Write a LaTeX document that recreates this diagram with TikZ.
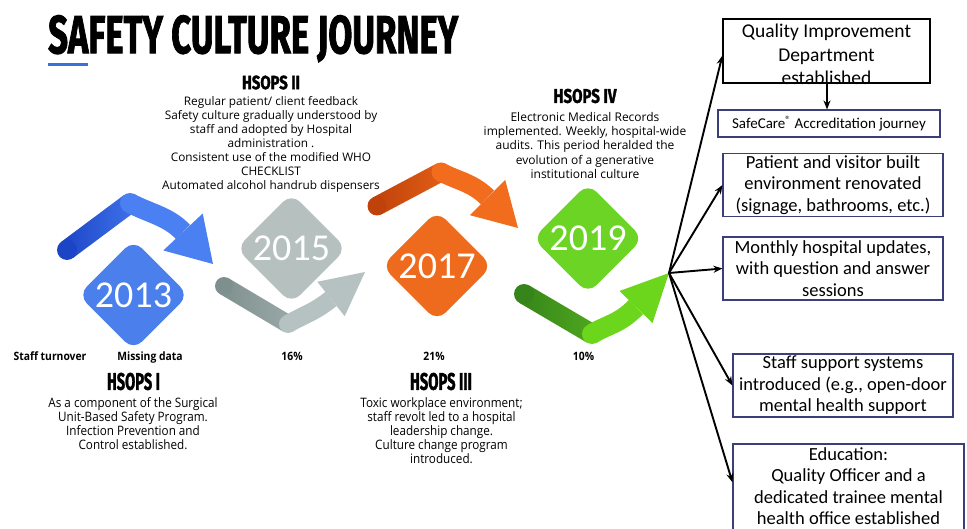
\documentclass[tikz,border=0pt]{standalone}
\usepackage{fontspec}
\usetikzlibrary{calc,arrows.meta}
\setmainfont{Open Sans}
\newfontfamily\headfont[BoldFeatures={FakeBold=2}]{Fira Sans}
\newfontfamily\condfont[FakeStretch=0.9]{Open Sans}
\newfontfamily\calfont{Carlito}

\definecolor{barblue}{HTML}{3B6FD9}
\definecolor{blueD}{HTML}{1C44C6}
\definecolor{blueM}{HTML}{3F73EA}
\definecolor{blueL}{HTML}{4A80F2}
\definecolor{blueDia}{HTML}{4B80EC}
\definecolor{grayD}{HTML}{7E908E}
\definecolor{grayM}{HTML}{9AA9A7}
\definecolor{grayL}{HTML}{B6C2C1}
\definecolor{grayDia}{HTML}{B5C0BF}
\definecolor{orangeD}{HTML}{BE420A}
\definecolor{orangeM}{HTML}{E25E16}
\definecolor{orangeL}{HTML}{F26C1E}
\definecolor{orangeDia}{HTML}{EE6B1E}
\definecolor{greenD}{HTML}{36851A}
\definecolor{greenM}{HTML}{4FA81E}
\definecolor{greenL}{HTML}{6CD61C}
\definecolor{greenDia}{HTML}{6BD424}
\definecolor{boxblue}{HTML}{3A3F7A}

% Folded ribbon arrow: #1 tail colour, #2 fold colour, #3 head colour,
% #4 half width (pt), #5 tail, #6 fold, #7 head base, #8 tip, #9 head half width (pt)
\newcommand\swoosh[9]{%
  \shade[left color=#1, right color=#2]
    ($#5!#4pt!90:#6$) -- ($#6!#4pt!-90:#5$) -- ($#6!#4pt!90:#5$) -- ($#5!#4pt!-90:#6$) -- cycle;
  \fill[#1] #5 circle (#4);
  \fill[#3] #6 circle (#4);
  \draw[#3, line width=2*#4pt] #6 .. controls ($#6!0.35!#7$) and ($#7!-0.5!#8$) .. #7;
  \fill[#3] ($#7!#9pt!90:#8$) -- #8 -- ($#7!#9pt!-90:#8$) -- cycle;
}

\tikzset{
  hd/.style={inner sep=0},
  body/.style={align=center, inner sep=0, font=\fontsize{11.8}{14}\selectfont},
  cbody/.style={align=center, inner sep=0, font=\condfont\fontsize{13}{14}\selectfont},
  stat/.style={anchor=base, inner sep=0, font=\condfont\bfseries\fontsize{11.5}{12}\selectfont},
  dia/.style={rectangle, rounded corners=12pt, minimum size=78pt, rotate=45, inner sep=0},
  yr/.style={text=white, inner sep=0, font=\calfont\fontsize{38}{38}\selectfont},
  ibox/.style={draw=boxblue, line width=1.1pt, fill=white, align=center, inner sep=0,
    font=\calfont\fontsize{18.5}{21.5}\selectfont, minimum width=220pt, minimum height=63pt},
  boxtext/.style={align=center, inner sep=0, font=\calfont\fontsize{18.5}{21.5}\selectfont},
  fan/.style={line width=1.9pt, -{Stealth[length=9pt,width=7pt]}},
}

\begin{document}
\begin{tikzpicture}[x=1pt,y=-1pt]
  \fill[white] (0,0) rectangle (967,529);
  \useasboundingbox (0,0) rectangle (967,529);

  % title and rule
  \node[anchor=north west, inner sep=0] (title) at (48,15)
    {\resizebox{410pt}{38pt}{\headfont\bfseries SAFETY CULTURE JOURNEY}};
  \node[fill=barblue, minimum width=40pt, minimum height=3pt, inner sep=0, anchor=west] (rule) at (48,65) {};

  % ribbons
  \swoosh{blueD}{blueM}{blueL}{10}{(67,250)}{(130,203)}{(183,232)}{(213,264)}{27}
  \swoosh{grayD}{grayM}{grayL}{9}{(224,286)}{(288,324)}{(331,299)}{(365,272)}{22}
  \swoosh{orangeD}{orangeM}{orangeL}{9.5}{(377,206)}{(441,172)}{(487.5,197.5)}{(518,228)}{25}
  \coordinate (hub) at (669,273);
  \swoosh{greenD}{greenM}{greenL}{10}{(524,294)}{(592,334)}{(636,307)}{(669,273)}{23}

  % year diamonds
  \node[dia, fill=blueDia] (d13) at (133.5,295) {};
  \node[yr] (y13) at (d13) {2013};
  \node[dia, fill=grayDia] (d15) at (291.5,248.5) {};
  \node[yr] (y15) at (d15) {2015};
  \node[dia, fill=orangeDia] (d17) at (437,266) {};
  \node[yr] (y17) at (d17) {2017};
  \node[dia, fill=greenDia] (d19) at (588,238.5) {};
  \node[yr] (y19) at (d19) {2019};

  % survey rounds
  \node[hd] (h2) at (271,82.5) {\resizebox{58pt}{13.5pt}{\headfont\bfseries HSOPS II}};
  \node[body] (t2) at (271,144.5) {Regular patient/ client feedback\\Safety culture gradually understood by\\staff and adopted by Hospital\\administration .\\Consistent use of the modified WHO\\CHECKLIST\\Automated alcohol handrub dispensers};

  \node[hd] (h4) at (585,96) {\resizebox{63pt}{14pt}{\headfont\bfseries HSOPS IV}};
  \node[body, font=\fontsize{12}{14.2}\selectfont] (t4) at (585,145.5) {Electronic Medical Records\\implemented. Weekly, hospital-wide\\audits. This period heralded the\\evolution of a generative\\institutional culture};

  \node[hd] (h1) at (133.5,381.5) {\resizebox{53pt}{17pt}{\headfont\bfseries HSOPS I}};
  \node[cbody] (t1) at (133,424) {As a component of the Surgical\\Unit-Based Safety Program.\\Infection Prevention and\\Control established.};

  \node[hd] (h3) at (441,381.5) {\resizebox{62pt}{17pt}{\headfont\bfseries HSOPS III}};
  \node[cbody] (t3) at (441.5,430.5) {Toxic workplace environment;\\staff revolt led to a hospital\\leadership change.\\Culture change program\\introduced.};

  % staff turnover row
  \node[stat] (s0) at (50,361) {Staff turnover};
  \node[stat] (s1) at (150,361) {Missing data};
  \node[stat] (s2) at (292,361) {16\%};
  \node[stat] (s3) at (434,361) {21\%};
  \node[stat] (s4) at (583.5,361) {10\%};

  % outcome boxes
  \node[draw=black, line width=1.3pt, minimum width=207pt, minimum height=64pt, inner sep=0] (qi) at (826.5,51) {};
  \node[align=center, inner sep=0, font=\calfont\fontsize{19.5}{23.5}\selectfont] (qit) at (826.5,54.5) {Quality Improvement\\Department\\established};
  \node[ibox, minimum width=222pt, minimum height=27pt, font=\calfont\fontsize{15}{17}\selectfont] (sc) at (829,123.5) {SafeCare\textsuperscript{®} Accreditation journey};
  \node[ibox] (pv) at (833,185) {Patient and visitor built\\environment renovated\\(signage, bathrooms, etc.)};
  \node[ibox] (mh) at (833,268.5) {Monthly hospital updates,\\with question and answer\\sessions};
  \node[ibox] (ss) at (843,385.5) {Staff support systems\\introduced (e.g., open-door\\mental health support};
  \node[ibox, minimum width=231pt, minimum height=96pt] (ed) at (848.5,492) {};
  \node[boxtext] (edt) at (848.5,486) {Education:\\Quality Officer and a\\dedicated trainee mental\\health office established};

  % connectors
  \draw[fan] (qi.south -| sc.north) ++(-2,0) coordinate (qib) -- (qib |- sc.north);
  \draw[fan] (hub) -- ($(qi.north west)!0.57!(qi.south west)$);
  \draw[fan] (hub) -- (pv.west);
  \draw[fan] (hub) -- (mh.west);
  \draw[fan] (hub) -- (ss.west);
  \draw[fan] (hub) -- ($(ed.north west)!0.4!(ed.south west)$);
\end{tikzpicture}
\end{document}
